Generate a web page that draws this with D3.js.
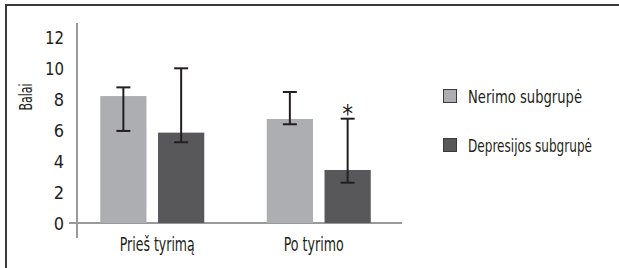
<!DOCTYPE html>
<html><head><meta charset="utf-8">
<script src="https://cdn.jsdelivr.net/npm/d3@7"></script>
<style>
html,body{margin:0;padding:0;background:#fff;}
text{font-family:"DejaVu Sans Condensed","DejaVu Sans",sans-serif;fill:#231f20;}
</style></head>
<body><svg id="c" width="619" height="268"></svg>
<script>
const categories = ["Prieš tyrimą", "Po tyrimo"];
const seriesNames = ["Nerimo subgrupė", "Depresijos subgrupė"];
const nerimoMean = [8.19, 6.71];
const nerimoLow = [5.94, 6.37];
const nerimoHigh = [8.75, 8.45];
const depresMean = [5.83, 3.42];
const depresLow = [5.21, 2.6];
const depresHigh = [9.98, 6.73];
const yTicks = [0, 2, 4, 6, 8, 10, 12];
const colors = ["#adaeb1", "#58585a"];
const marks = ["", "*"];

const series = [
  {name: seriesNames[0], mean: nerimoMean, low: nerimoLow, high: nerimoHigh, color: colors[0], mark: ["", ""]},
  {name: seriesNames[1], mean: depresMean, low: depresLow, high: depresHigh, color: colors[1], mark: marks}
];

function fit(sel, w){ sel.attr("textLength", w).attr("lengthAdjust","spacingAndGlyphs"); }

const svg = d3.select("#c");
// frame
svg.append("path").attr("d","M6,268 L6,5 L619,5").attr("fill","none").attr("stroke","#3a3a3a").attr("stroke-width",2);

const y = d3.scaleLinear().domain([0,12]).range([223,37]);
const x0 = d3.scaleBand().domain(categories).range([69,402]);      // bar groups
const xl = d3.scaleBand().domain(categories).range([79,392]);      // category labels
const x1 = d3.scaleBand().domain([0,1]).range([0,104]).paddingInner(0.2);

// axes lines
svg.append("line").attr("x1",77).attr("x2",77).attr("y1",23).attr("y2",238).attr("stroke","#9a9a9c").attr("stroke-width",2);
svg.append("line").attr("x1",69).attr("x2",402).attr("y1",y(0)).attr("y2",y(0)).attr("stroke","#9a9a9c").attr("stroke-width",2);

// y tick labels
const yAxis = d3.axisLeft(y).tickValues(yTicks).tickSize(0).tickPadding(0);
const ga = svg.append("g").attr("transform","translate(64,0)").call(yAxis);
ga.select(".domain").remove();
ga.selectAll("text").style("font-size","18px").style("font-family","DejaVu Sans Condensed").attr("dy","0.36em").attr("fill","#231f20");
ga.selectAll("text").each(function(d){ if(String(d).length>1) fit(d3.select(this), 19); });

// y title
const yt = svg.append("text").attr("transform","translate(32,97) rotate(-90)").attr("text-anchor","middle")
  .style("font-size","18px").text("Balai");
fit(yt, 27);

// x labels
const xAxis = d3.axisBottom(xl).tickSize(0).tickPadding(0);
const gx = svg.append("g").attr("transform","translate(0,251)").call(xAxis);
gx.select(".domain").remove();
gx.selectAll("text").style("font-size","19px").style("font-family","DejaVu Sans Condensed").attr("dy","0").attr("y",0).attr("fill","#231f20");
const xw = [75, 60];
gx.selectAll("text").each(function(d,i){ fit(d3.select(this), xw[i]); });

const groupOffset = (x0.bandwidth()-104)/2;
series.forEach((s,si)=>{
  categories.forEach((c,ci)=>{
    const bx = x0(c)+groupOffset+x1(si);
    const bw = x1.bandwidth();
    svg.append("rect").attr("x",bx).attr("y",y(s.mean[ci])).attr("width",bw).attr("height",y(0)-y(s.mean[ci])).attr("fill",s.color);
    const cx = bx+bw/2;
    const g = svg.append("g").attr("stroke","#231f20").attr("stroke-width",2);
    g.append("line").attr("x1",cx).attr("x2",cx).attr("y1",y(s.high[ci])).attr("y2",y(s.low[ci]));
    g.append("line").attr("x1",cx-7).attr("x2",cx+7).attr("y1",y(s.high[ci])).attr("y2",y(s.high[ci]));
    g.append("line").attr("x1",cx-7).attr("x2",cx+7).attr("y1",y(s.low[ci])).attr("y2",y(s.low[ci]));
    if(s.mark[ci]){
      svg.append("text").attr("x",cx).attr("y",y(s.high[ci])+3).attr("text-anchor","middle").style("font-size","24px").text(s.mark[ci]);
    }
  });
});

// legend
const legW = [114, 124];
const leg = svg.append("g");
series.forEach((s,i)=>{
  const ly = 89 + i*49;
  leg.append("rect").attr("x",443.5).attr("y",ly+0.5).attr("width",13).attr("height",13).attr("fill",s.color).attr("stroke","#3a3a3a").attr("stroke-width",1);
  const t = leg.append("text").attr("x",468).attr("y",ly+13.5).style("font-size","18.5px").text(s.name);
  fit(t, legW[i]);
});
</script></body></html>
